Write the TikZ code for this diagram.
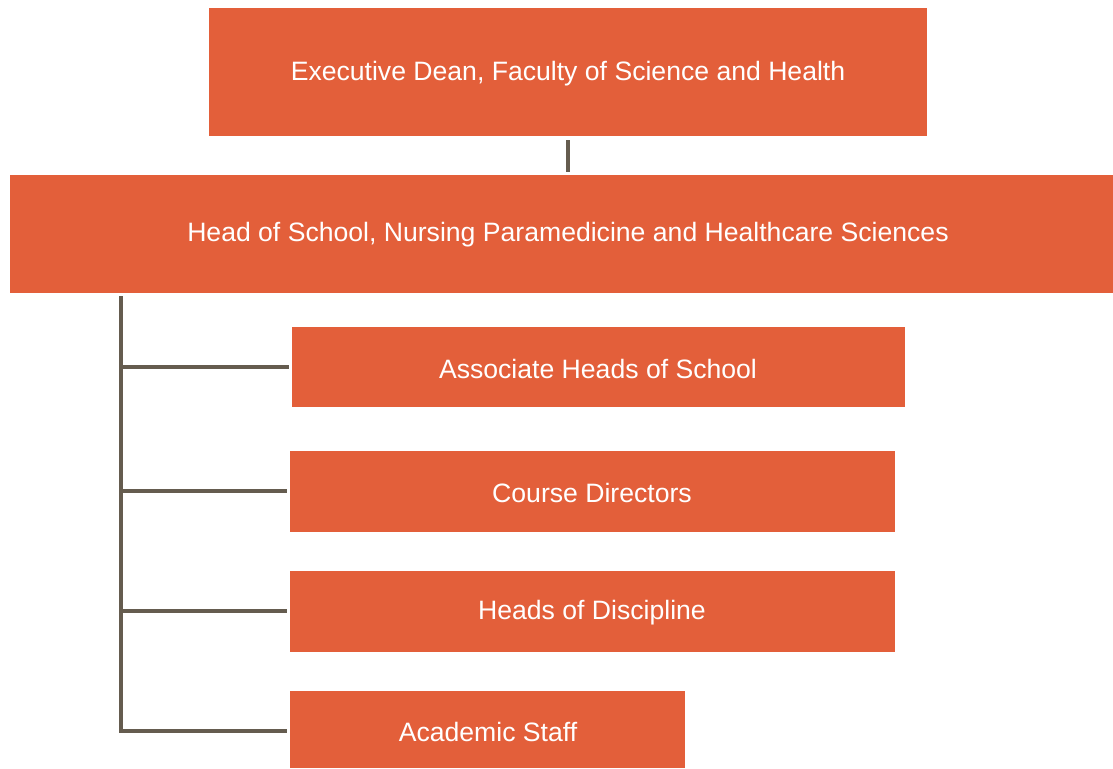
\documentclass[tikz,border=0pt]{standalone}
\usepackage{fontspec}
\setmainfont{Liberation Sans}
\definecolor{boxor}{HTML}{E35F3A}
\definecolor{linec}{HTML}{655C4F}
\begin{document}
\begin{tikzpicture}[x=1pt,y=-1pt,
  lbl/.style={text=white,font=\fontsize{26.6}{31}\selectfont},
  conn/.style={draw=linec,line width=3.3pt}]
\useasboundingbox (0,0) rectangle (1113,768);
\fill[boxor] (209,8) rectangle (927,136);
\node[lbl] (dean) at (568,74) {Executive Dean, Faculty of Science and Health};
\fill[boxor] (10,175) rectangle (1113,293);
\node[lbl] (head) at (568,235) {Head of School, Nursing Paramedicine and Healthcare Sciences};
\fill[boxor] (292,327) rectangle (905,407);
\node[lbl] (assoc) at (598,369) {Associate Heads of School};
\fill[boxor] (290,451) rectangle (895,532);
\node[lbl] (course) at (592,493) {Course Directors};
\fill[boxor] (290,571) rectangle (895,652);
\node[lbl] (disc) at (592,613) {Heads of Discipline};
\fill[boxor] (290,691) rectangle (685,768);
\node[lbl] (staff) at (488,732) {Academic Staff};
\coordinate (t1) at (568,140);
\coordinate (t2) at (568,172);
\draw[conn] (t1) -- (t2);
\coordinate (v1) at (121,296);
\coordinate (v2) at (121,731);
\draw[conn] (v1) -- (v2);
\coordinate (e1) at (289,367);
\coordinate (e2) at (287,491);
\coordinate (e3) at (287,611);
\coordinate (e4) at (287,731);
\draw[conn] (121,367) -- (e1);
\draw[conn] (121,491) -- (e2);
\draw[conn] (121,611) -- (e3);
\draw[conn] (119.4,731) -- (e4);
\end{tikzpicture}
\end{document}
